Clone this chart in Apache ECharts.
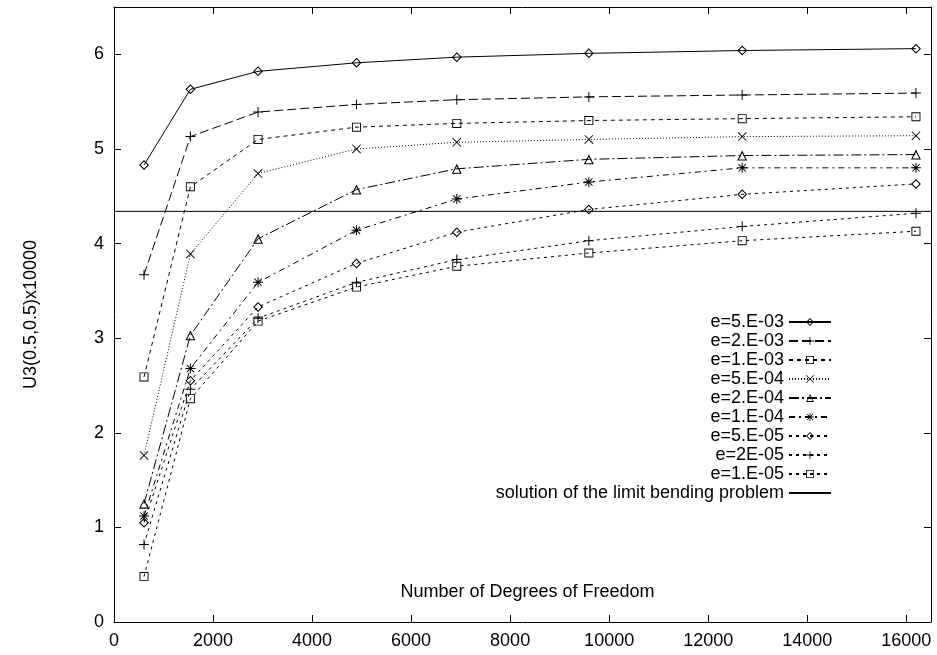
<!DOCTYPE html>
<html>
<head>
<meta charset="utf-8">
<script src="https://cdn.jsdelivr.net/npm/echarts@6/dist/echarts.min.js"></script>
<style>
  html, body { margin: 0; padding: 0; background: #fff; }
  #chart { width: 937px; height: 655px; }
</style>
</head>
<body>
<div id="chart"></div>
<script>
// degrees of freedom (x)
const dof = [606, 1543, 2909, 4897, 6923, 9590, 12687, 16196];

// U3(0.5,0.5)x10000 for each e
const u5e3 = [4.83, 5.63, 5.82, 5.91, 5.97, 6.01, 6.04, 6.06];
const u2e3 = [3.67, 5.13, 5.39, 5.47, 5.52, 5.55, 5.57, 5.59];
const u1e3 = [2.59, 4.60, 5.10, 5.23, 5.27, 5.30, 5.32, 5.34];
const u5e4 = [1.76, 3.89, 4.74, 5.00, 5.07, 5.10, 5.13, 5.14];
const u2e4 = [1.25, 3.03, 4.05, 4.57, 4.79, 4.89, 4.93, 4.94];
const u1e4 = [1.12, 2.68, 3.59, 4.14, 4.47, 4.65, 4.80, 4.80];
const u5e5 = [1.05, 2.55, 3.33, 3.79, 4.12, 4.36, 4.52, 4.63];
const u2e5 = [0.82, 2.46, 3.21, 3.59, 3.83, 4.03, 4.18, 4.32];
const u1e5 = [0.48, 2.36, 3.18, 3.54, 3.76, 3.90, 4.03, 4.13];

// limit bending problem solution (horizontal line)
const limitValue = 4.34;
const limitX = [0, 16500];

const names = ["e=5.E-03", "e=2.E-03", "e=1.E-03", "e=5.E-04", "e=2.E-04",
               "e=1.E-04", "e=5.E-05", "e=2E-05", "e=1.E-05"];
const limitName = "solution of the limit bending problem";

// gnuplot-like point shapes (filled outlines so stroke stays 1px)
const SYM = {
  diamond: 'path://M5,0L10,5L5,10L0,5Z M5,1.5L1.5,5L5,8.5L8.5,5Z',
  plus: 'path://M0,4.5H10V5.5H0Z M4.5,0H5.5V10H4.5Z',
  square: 'path://M0,0H10V10H0Z M1,1V9H9V1Z',
  cross: 'path://M0,0.7L0.7,0L10,9.3L9.3,10Z M9.3,0L10,0.7L0.7,10L0,9.3Z',
  triangle: 'path://M5,0L10,9L0,9Z M5,2.1L1.7,8L8.3,8Z',
  star: 'path://M0,4.5H10V5.5H0Z M4.5,0H5.5V10H4.5Z M1,1.7L1.7,1L9,8.3L8.3,9Z M8.3,1L9,1.7L1.7,9L1,8.3Z',
  blank: 'path://M0,0L10,0L10,10L0,10Z M0,0L0,10L10,10L10,0Z'
};

const values = [u5e3, u2e3, u1e3, u5e4, u2e4, u1e4, u5e5, u2e5, u1e5];
const symbols = ['diamond', 'plus', 'square', 'cross', 'triangle', 'star', 'diamond', 'plus', 'square'];
const dashes = ['solid', [9, 4], [4, 4], [1, 2], [10, 3, 2, 3], [6, 4, 2, 4], [3, 4], [3, 4], [3, 4]];
const sizes = [10, 10, 9, 9, 10, 10, 10, 10, 9];

const font = "'Liberation Sans', Arial, Helvetica, sans-serif";

let chart = echarts.init(document.getElementById('chart'));

let series = [];
values.forEach((v, i) => {
  series.push({
    name: names[i],
    type: 'line',
    data: v.map((y, j) => [dof[j], y]),
    symbol: SYM[symbols[i]],
    symbolSize: sizes[i],
    showSymbol: true,
    animation: false,
    lineStyle: { width: 1, color: '#000', type: dashes[i] },
    itemStyle: { color: '#000' },
    z: 3
  });
});
series.push({
  name: limitName,
  type: 'line',
  data: limitX.map(x => [x, limitValue]),
  symbol: SYM.blank,
  showSymbol: false,
  animation: false,
  lineStyle: { width: 1, color: '#000', type: 'solid' },
  itemStyle: { color: '#000' },
  z: 2
});

const axisCommon = {
  axisLine: { show: true, onZero: false, lineStyle: { color: '#000', width: 1 } },
  axisTick: { show: true, inside: true, length: 7, lineStyle: { color: '#000' } },
  splitLine: { show: false }
};

let option = {
  backgroundColor: '#fff',
  color: ['#000'],
  animation: false,
  textStyle: { fontFamily: font },
  grid: { left: 114, right: 6, top: 7, bottom: 33, containLabel: false },
  legend: {
    orient: 'vertical',
    right: 105,
    top: 313,
    padding: 0,
    align: 'right',
    itemWidth: 42,
    itemHeight: 10,
    itemGap: 1,
    selectedMode: false,
    textStyle: { color: '#000', fontSize: 18, fontFamily: font },
    data: names.concat([limitName])
  },
  xAxis: [
    Object.assign({}, axisCommon, {
      type: 'value', position: 'bottom', min: 0, max: 16500, interval: 2000,
      name: 'Number of Degrees of Freedom',
      nameLocation: 'middle',
      nameGap: -39,
      nameTextStyle: { color: '#000', fontSize: 18, fontFamily: font, padding: [0, 0, 0, 10] },
      axisLabel: {
        color: '#000', fontSize: 18, margin: 10, showMaxLabel: false,
        formatter: v => String(v)
      }
    }),
    Object.assign({}, axisCommon, {
      type: 'value', position: 'top', min: 0, max: 16500, interval: 2000,
      axisLabel: { show: false }
    })
  ],
  yAxis: [
    Object.assign({}, axisCommon, {
      type: 'value', position: 'left', min: 0, max: 6.5, interval: 1,
      name: 'U3(0.5,0.5)x10000',
      nameLocation: 'middle',
      nameGap: 74,
      nameRotate: 90,
      nameTextStyle: { color: '#000', fontSize: 18, fontFamily: font },
      axisLabel: {
        color: '#000', fontSize: 18, margin: 10, showMaxLabel: false,
        formatter: v => String(v)
      }
    }),
    Object.assign({}, axisCommon, {
      type: 'value', position: 'right', min: 0, max: 6.5, interval: 1,
      axisLabel: { show: false }
    })
  ],
  series: series
};

chart.setOption(option);
window.addEventListener('resize', () => {
  chart.resize();
});
</script>
</body>
</html>
